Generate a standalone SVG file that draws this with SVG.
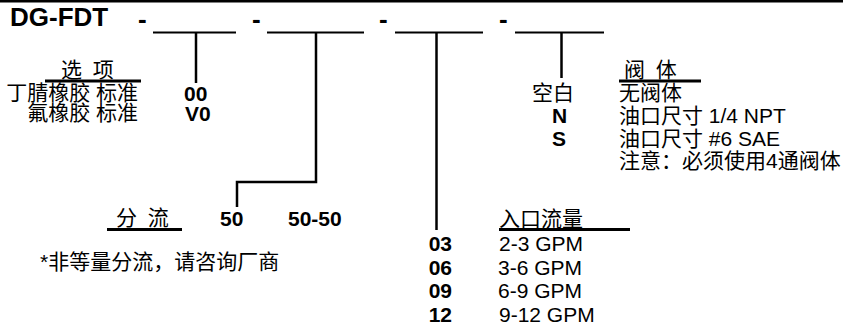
<svg xmlns="http://www.w3.org/2000/svg" width="843" height="331" viewBox="0 0 843 331">
<style>
.t{font-family:"Liberation Sans","Noto Sans CJK SC",sans-serif;font-size:21px;fill:#000}
.b{font-weight:bold}
.h{word-spacing:5px}
.e{text-anchor:end}
.m{text-anchor:middle}
.ln{stroke:#000;stroke-width:2.5;fill:none}
.ul{stroke:#000;stroke-width:3;fill:none}
.bl{stroke:#000;stroke-width:2;fill:none}
</style>
<rect x="0" y="0" width="843" height="2.5" fill="#000"/>
<g id="title">
<text class="t b" x="10" y="26" style="font-size:26px">DG-FDT</text>
<text class="t b" x="138" y="28" style="font-size:26px">-</text>
<text class="t b" x="252" y="28" style="font-size:26px">-</text>
<text class="t b" x="379" y="28" style="font-size:26px">-</text>
<text class="t b" x="499" y="28" style="font-size:26px">-</text>
<line class="bl" x1="153" y1="32.5" x2="236" y2="32.5"/>
<line class="bl" x1="267" y1="32.5" x2="364" y2="32.5"/>
<line class="bl" x1="395" y1="32.5" x2="483" y2="32.5"/>
<line class="bl" x1="515" y1="32.5" x2="604" y2="32.5"/>
</g>
<g id="seal-options">
<text class="t h" x="61" y="77">选 项</text>
<line class="ul" x1="45" y1="81" x2="141" y2="81"/>
<text class="t e" x="138" y="100">丁腈橡胶 标准</text>
<text class="t e" x="138" y="120">氟橡胶 标准</text>
<text class="t b" x="184" y="101">00</text>
<text class="t b" x="185" y="121">V0</text>
</g>
<g id="valve-body">
<text class="t h" x="624" y="77">阀 体</text>
<line class="ul" x1="619" y1="81" x2="701" y2="81"/>
<text class="t m" x="553" y="100">空白</text>
<text class="t b m" x="559.5" y="123">N</text>
<text class="t b m" x="559" y="146">S</text>
<text class="t" x="619" y="100">无阀体</text>
<text class="t" x="619" y="123">油口尺寸 1/4 NPT</text>
<text class="t" x="619" y="146">油口尺寸 #6 SAE</text>
<text class="t" x="619" y="168">注意：必须使用4通阀体</text>
</g>
<g id="flow-split">
<text class="t h" x="116" y="225">分 流</text>
<line class="ul" x1="107" y1="229.5" x2="182" y2="229.5"/>
<text class="t b" x="220" y="226">50</text>
<text class="t b" x="288" y="226">50-50</text>
<text class="t" x="40" y="269">*非等量分流，请咨询厂商</text>
</g>
<g id="inlet-flow">
<text class="t" x="499" y="226">入口流量</text>
<line class="ul" x1="499" y1="229.5" x2="630" y2="229.5"/>
<text class="t b e" x="452" y="251">03</text>
<text class="t b e" x="452" y="275">06</text>
<text class="t b e" x="452" y="298">09</text>
<text class="t b e" x="452" y="322">12</text>
<text class="t" x="499" y="251">2-3 GPM</text>
<text class="t" x="498" y="275">3-6 GPM</text>
<text class="t" x="498" y="298">6-9 GPM</text>
<text class="t" x="499" y="322">9-12 GPM</text>
</g>
<g id="connectors">
<polyline class="ln" points="196,32.5 196,83"/>
<polyline class="ln" points="316,32.5 316,182 237,182 237,207"/>
<polyline class="ln" points="436.5,32.5 436.5,230"/>
<polyline class="ln" points="561.5,32.5 561.5,78"/>
</g>
</svg>
